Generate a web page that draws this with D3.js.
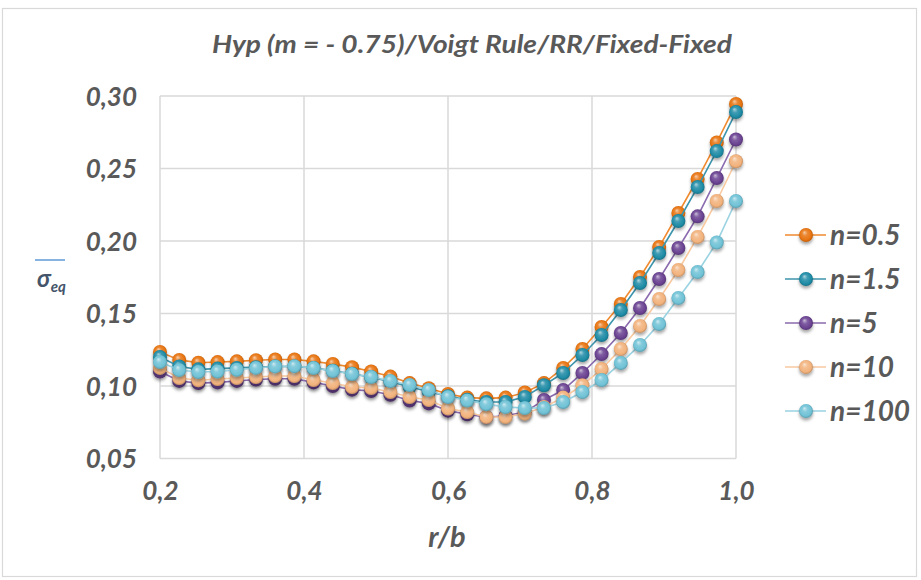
<!DOCTYPE html>
<html>
<head>
<meta charset="utf-8">
<script src="https://cdn.jsdelivr.net/npm/d3@7"></script>
<style>
  html, body { margin: 0; padding: 0; background: #fff; }
  svg { display: block; }
  text { font-family: Lato, "Open Sans", sans-serif; fill: #595959; }
</style>
</head>
<body>
<svg id="chart" width="921" height="580"></svg>
<script>
// Radial position r/b (31 stations between a/b = 0.2 and the outer edge)
const rb = [0.2, 0.2267, 0.2533, 0.28, 0.3067, 0.3333, 0.36, 0.3867, 0.4133, 0.44,
            0.4667, 0.4933, 0.52, 0.5467, 0.5733, 0.6, 0.6267, 0.6533, 0.68, 0.7067,
            0.7333, 0.76, 0.7867, 0.8133, 0.84, 0.8667, 0.8933, 0.92, 0.9467, 0.9733, 1.0];

// Equivalent stress for each material gradient index n
const n05 = [0.1235, 0.118, 0.116, 0.1165, 0.117, 0.1178, 0.1183, 0.1183, 0.117, 0.1152,
             0.113, 0.110, 0.1065, 0.102, 0.0985, 0.0945, 0.092, 0.0915, 0.092, 0.0955,
             0.102, 0.1125, 0.1255, 0.1407, 0.1566, 0.1752, 0.1959, 0.2193, 0.2428, 0.268, 0.2945];
const n15 = [0.120, 0.1135, 0.1115, 0.112, 0.1125, 0.113, 0.1135, 0.1135, 0.1125, 0.1105,
             0.1085, 0.106, 0.103, 0.0995, 0.096, 0.093, 0.0905, 0.089, 0.089, 0.0925,
             0.1005, 0.109, 0.1214, 0.1352, 0.1524, 0.171, 0.1917, 0.2138, 0.2372, 0.262, 0.289];
const n5   = [0.110, 0.1035, 0.102, 0.1025, 0.1035, 0.1045, 0.105, 0.105, 0.1025, 0.100,
             0.0975, 0.0965, 0.094, 0.090, 0.088, 0.083, 0.0805, 0.0785, 0.0795, 0.082,
             0.0903, 0.0972, 0.109, 0.122, 0.1366, 0.1538, 0.1738, 0.1952, 0.217, 0.2434, 0.270];
const n10  = [0.1125, 0.1055, 0.104, 0.1048, 0.1055, 0.1062, 0.1069, 0.1069, 0.1041, 0.1021,
              0.0993, 0.0986, 0.0959, 0.0924, 0.0903, 0.0845, 0.082, 0.0786, 0.0786, 0.081,
              0.0855, 0.092, 0.1005, 0.1117, 0.1255, 0.1414, 0.160, 0.180, 0.2028, 0.2276, 0.255];
const n100 = [0.1166, 0.111, 0.1097, 0.110, 0.1112, 0.1125, 0.1135, 0.1137, 0.1124, 0.1103,
              0.1083, 0.1062, 0.1034, 0.1007, 0.0972, 0.0924, 0.090, 0.0875, 0.0855, 0.0848,
              0.0848, 0.089, 0.0959, 0.1041, 0.1159, 0.1283, 0.1428, 0.1607, 0.1786, 0.199, 0.2276];

const seriesNames = ["n=0.5", "n=1.5", "n=5", "n=10", "n=100"];
const seriesValues = [n05, n15, n5, n10, n100];
const markerColors = ["#E8730F", "#1E8BA5", "#6A4291", "#F2B27C", "#70C2D6"];
const lineColors   = ["#F08A2E", "#3C95AC", "#8A6AAE", "#F9C9A0", "#9AD3E2"];

const yTicks = [0.05, 0.10, 0.15, 0.20, 0.25, 0.30];
const xTicks = [0.2, 0.4, 0.6, 0.8, 1.0];
const titleText = "Hyp (m = - 0.75)/Voigt Rule/RR/Fixed-Fixed";
const xTitle = "r/b";

const svg = d3.select("#chart");

// outer chart frame
svg.append("rect").attr("x", 2.5).attr("y", 8.5).attr("width", 914).attr("height", 568)
   .attr("fill", "#fff").attr("stroke", "#d9d9d9").attr("stroke-width", 1.2);

const x = d3.scaleLinear().domain([0.2, 1.0]).range([160, 736]);
const y = d3.scaleLinear().domain([0.05, 0.30]).range([458.5, 96]);

// gradients for shaded sphere markers and a soft drop shadow
const defs = svg.append("defs");
markerColors.forEach((c, i) => {
  const g = defs.append("radialGradient").attr("id", "sph" + i)
    .attr("cx", "50%").attr("cy", "50%").attr("r", "55%")
    .attr("fx", "38%").attr("fy", "30%");
  g.append("stop").attr("offset", "0%").attr("stop-color", d3.interpolateRgb(c, "#fff")(0.65));
  g.append("stop").attr("offset", "35%").attr("stop-color", d3.interpolateRgb(c, "#fff")(0.15));
  g.append("stop").attr("offset", "75%").attr("stop-color", c);
  g.append("stop").attr("offset", "100%").attr("stop-color", d3.color(c).darker(0.9));
});
const sh = defs.append("filter").attr("id", "shadow")
  .attr("x", "-50%").attr("y", "-50%").attr("width", "200%").attr("height", "200%");
sh.append("feDropShadow").attr("dx", 0).attr("dy", 2.5).attr("stdDeviation", 1.6)
  .attr("flood-color", "#000").attr("flood-opacity", 0.35);

// gridlines
const grid = svg.append("g");
grid.selectAll(".hg").data(yTicks).join("line")
  .attr("x1", x(0.2)).attr("x2", x(1.0))
  .attr("y1", d => y(d)).attr("y2", d => y(d))
  .attr("stroke", "#d9d9d9").attr("stroke-width", 1.5);
grid.selectAll(".vg").data(xTicks).join("line")
  .attr("y1", y(0.05)).attr("y2", y(0.30))
  .attr("x1", d => x(d)).attr("x2", d => x(d))
  .attr("stroke", "#d9d9d9").attr("stroke-width", 1.5);

// axes (labels only, Excel style)
const yAxis = d3.axisLeft(y).tickValues(yTicks).tickSize(0).tickPadding(0)
  .tickFormat(d => d3.format(".2f")(d).replace(".", ","));
const gy = svg.append("g").attr("transform", "translate(137,0)").call(yAxis);
gy.select(".domain").remove();
gy.selectAll("text").attr("font-size", 26).attr("font-weight", 700)
  .attr("font-style", "italic").attr("fill", "#595959")
  .style("font-family", "Lato, sans-serif").attr("dy", "0.36em");

const xAxis = d3.axisBottom(x).tickValues(xTicks).tickSize(0).tickPadding(0)
  .tickFormat(d => d3.format(".1f")(d).replace(".", ","));
const gx = svg.append("g").attr("transform", "translate(0,482)").call(xAxis);
gx.select(".domain").remove();
gx.selectAll("text").attr("font-size", 26).attr("font-weight", 700)
  .attr("font-style", "italic").attr("fill", "#595959")
  .style("font-family", "Lato, sans-serif").attr("dy", "0.71em");

// title
svg.append("text").attr("x", 472).attr("y", 53).attr("text-anchor", "middle")
  .attr("font-size", 25).attr("font-style", "italic").attr("font-weight", 700)
  .attr("textLength", 520).attr("lengthAdjust", "spacingAndGlyphs")
  .text(titleText);

// x title
svg.append("text").attr("x", 447).attr("y", 547).attr("text-anchor", "middle")
  .attr("font-size", 29).attr("font-style", "italic").attr("font-weight", 700)
  .text(xTitle);

// y title: overlined sigma_eq
svg.append("line").attr("x1", 35).attr("x2", 65).attr("y1", 260).attr("y2", 260)
  .attr("stroke", "#5B9BD5").attr("stroke-width", 1.5);
const yt = svg.append("text").attr("x", 37).attr("y", 287)
  .attr("font-style", "italic").attr("font-weight", 700).style("fill", "#44546A");
yt.append("tspan").attr("font-size", 24).text("σ");
yt.append("tspan").attr("font-size", 15).attr("dy", 5).text("eq");

// series
const line = d3.line().x((d, i) => x(rb[i])).y(d => y(d));
seriesValues.forEach((vals, s) => {
  const g = svg.append("g");
  g.append("path").datum(vals).attr("d", line)
    .attr("fill", "none").attr("stroke", lineColors[s]).attr("stroke-width", 1.6);
  g.selectAll("circle").data(vals).join("circle")
    .attr("cx", (d, i) => x(rb[i])).attr("cy", d => y(d)).attr("r", 7)
    .attr("fill", `url(#sph${s})`).attr("filter", "url(#shadow)");
});

// legend
const legendY = [235, 279, 323, 367, 411];
seriesNames.forEach((name, s) => {
  const g = svg.append("g").attr("transform", `translate(0,${legendY[s]})`);
  g.append("line").attr("x1", 785).attr("x2", 826).attr("y1", 0).attr("y2", 0)
    .attr("stroke", lineColors[s]).attr("stroke-width", 1.6);
  g.append("circle").attr("cx", 806).attr("cy", 0).attr("r", 7)
    .attr("fill", `url(#sph${s})`).attr("filter", "url(#shadow)");
  g.append("text").attr("x", 830).attr("y", 0).attr("dy", "0.36em")
    .attr("font-size", 28).attr("font-style", "italic").attr("font-weight", 700)
    .text(name);
});
</script>
</body>
</html>
